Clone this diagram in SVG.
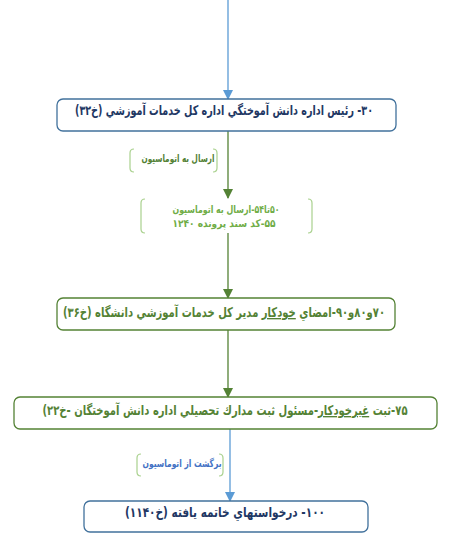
<svg xmlns="http://www.w3.org/2000/svg" width="449" height="539" viewBox="0 0 449 539">
<style>
text{font-family:"DejaVu Sans",sans-serif;font-weight:bold;direction:rtl;text-anchor:middle;unicode-bidi:embed}
.bbox{fill:#fff;stroke:#41719c;stroke-width:1.3}
.gbox{fill:#fff;stroke:#548235;stroke-width:1.3}
.bt{fill:#1f3864;font-size:13.5px}
.gt{fill:#548235;font-size:13.5px}
.br{fill:none;stroke:#a9d18e;stroke-width:1.2}
.bl{stroke:#5b9bd5;stroke-width:1.3;fill:none}
.gl{stroke:#548235;stroke-width:1.3;fill:none}
</style>
<defs>
<marker id="ab" markerWidth="10" markerHeight="10" refX="9" refY="5" orient="auto" markerUnits="userSpaceOnUse" viewBox="0 0 10 10"><path d="M0,0 L10,5 L0,10 z" fill="#5b9bd5"/></marker>
<marker id="ag" markerWidth="10" markerHeight="10" refX="9" refY="5" orient="auto" markerUnits="userSpaceOnUse" viewBox="0 0 10 10"><path d="M0,0 L10,5 L0,10 z" fill="#548235"/></marker>
</defs>
<g id="connectors">
<line class="bl" x1="228" y1="0" x2="228" y2="99" marker-end="url(#ab)"/>
<line class="gl" x1="228" y1="131" x2="228" y2="198" marker-end="url(#ag)"/>
<line class="gl" x1="228" y1="233" x2="228" y2="298" marker-end="url(#ag)"/>
<line class="gl" x1="228" y1="330" x2="228" y2="397" marker-end="url(#ag)"/>
<line class="bl" x1="230" y1="429" x2="230" y2="501" marker-end="url(#ab)"/>
</g>
<g id="lbl1">
<path class="br" d="M134,149 Q130,149 130,153 L130,168 Q130,172 134,172 M213,149 Q217,149 217,153 L217,168 Q217,172 213,172"/>
<text x="178" y="162" textLength="73" lengthAdjust="spacingAndGlyphs" style="fill:#538135;font-size:10.5px">ارسال به اتوماسیون</text>
</g>
<g id="lbl2">
<path class="br" d="M145,199 Q141,199 141,203 L141,229 Q141,233 145,233 M308,199 Q312,199 312,203 L312,229 Q312,233 308,233"/>
<text x="226" y="213" textLength="107" lengthAdjust="spacingAndGlyphs" style="fill:#70ad47;font-size:10.5px">۵۰تا۵۴-ارسال به اتوماسیون</text>
<text x="224" y="227" textLength="103" lengthAdjust="spacingAndGlyphs" style="fill:#70ad47;font-size:10.5px">۵۵-کد سند پرونده ۱۲۴۰</text>
</g>
<g id="lbl3">
<path class="br" d="M141,454 Q137,454 137,458 L137,472 Q137,476 141,476 M219,454 Q223,454 223,458 L223,472 Q223,476 219,476"/>
<text x="182" y="467" textLength="79" lengthAdjust="spacingAndGlyphs" style="fill:#4472c4;font-size:10.5px">برگشت از اتوماسیون</text>
</g>
<g id="n1">
<rect class="bbox" x="57" y="99" width="339" height="32" rx="6"/>
<text class="bt" x="224" y="115" textLength="298" lengthAdjust="spacingAndGlyphs">۳۰- رئيس اداره دانش آموختگي اداره كل خدمات آموزشي (خ۳۲)</text>
</g>
<g id="n2">
<rect class="gbox" x="57" y="298" width="338" height="32" rx="6"/>
<text class="gt" x="224" y="317" textLength="322" lengthAdjust="spacingAndGlyphs">۷۰و۸۰و۹۰-امضاي <tspan text-decoration="underline">خودكار</tspan> مدير كل خدمات آموزشي دانشگاه (خ۳۶)</text>
</g>
<g id="n3">
<rect class="gbox" x="14" y="397" width="423" height="32" rx="6"/>
<text class="gt" x="225" y="415" textLength="365" lengthAdjust="spacingAndGlyphs">۷۵-ثبت <tspan text-decoration="underline">غيرخودكار</tspan>-مسئول ثبت مدارك تحصيلي اداره دانش آموختگان -خ۲۲)</text>
</g>
<g id="n4">
<rect class="bbox" x="84" y="501" width="284" height="31" rx="6"/>
<text class="bt" x="225" y="517" textLength="200" lengthAdjust="spacingAndGlyphs">۱۰۰- درخواستهاي خاتمه يافته (خ۱۱۴۰)</text>
</g>
</svg>
